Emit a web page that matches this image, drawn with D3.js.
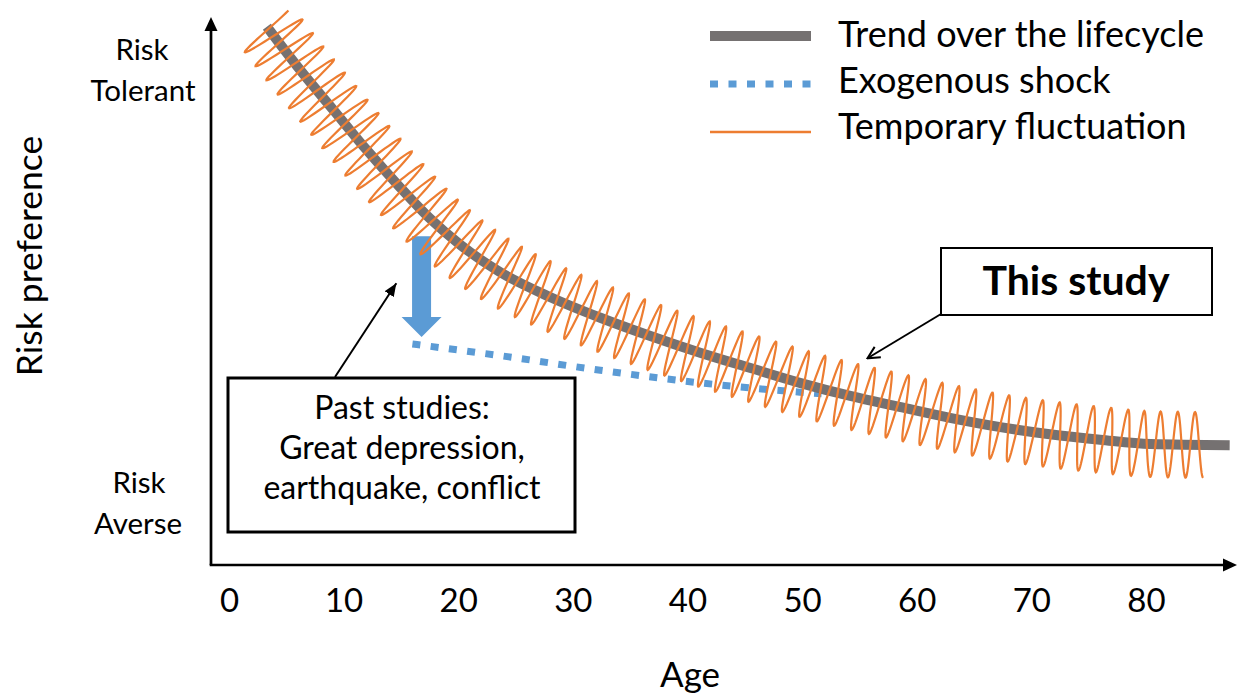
<!DOCTYPE html>
<html lang="en">
<head>
<meta charset="utf-8">
<title>Risk preference over the lifecycle</title>
<style>
  body { margin: 0; background: #fff; }
  svg { display: block; font-family: Lato, "Open Sans", sans-serif; }
</style>
</head>
<body>
<svg id="chart" width="1237" height="695"></svg>
<script src="https://d3js.org/d3.v7.min.js"></script>
<script>
// trend over the lifecycle: age and risk preference (0 = averse, 100 = tolerant)
const trendAge = [3.3, 6.2, 9.1, 12, 14.9, 17.5, 20.2, 23.6, 28, 32.4, 36.7, 41.1, 45.5, 49.8, 54.2, 58.5, 62.9, 67.3, 71.6, 76, 80.4, 87.3]
const trendValue = [98.4, 90.5, 83.2, 75.9, 69.1, 63.4, 58.5, 53.6, 49, 45.2, 41.9, 38.8, 36, 33.3, 30.9, 28.9, 26.9, 25.2, 23.9, 22.9, 22.1, 21.9]

// path after the exogenous shock
const shockAge = [16.0, 23.9, 32.4, 41.1, 49.8, 51.7]
const shockValue = [40.4, 38.2, 35.6, 33.3, 31.6, 31.3]

// the drop itself (big blue arrow)
const dropAge = 16.8
const dropFrom = 60.1
const dropTo = 41.7

// temporary fluctuation around the trend
const fluctEndAge = 85
const fluctAmplitude = 6
const fluctCycles = 61.4
const fluctPhase = 0.6

const ageTicks = [0, 10, 20, 30, 40, 50, 60, 70, 80]
const legendLabels = ["Trend over the lifecycle", "Exogenous shock", "Temporary fluctuation"]

// where the two annotation arrows point (age, value)
const pastTarget = [14.6, 51.5]
const thisTarget = [55.7, 37.8]

const svg = d3.select("#chart")

let x = d3.scaleLinear().domain([0, 80]).range([229, 1146])
let y = d3.scaleLinear().domain([0, 100]).range([565, 18])

const grey = "#757171"
const blue = "#5B9BD5"
const orange = "#ED7D31"

let defs = svg.append("defs")
defs.append("marker")
    .attr("id", "head-filled")
    .attr("markerUnits", "userSpaceOnUse")
    .attr("viewBox", "0 0 12 10")
    .attr("refX", 12).attr("refY", 5)
    .attr("markerWidth", 13).attr("markerHeight", 11)
    .attr("orient", "auto")
    .append("path").attr("d", "M0,0 L12,5 L0,10 Z").attr("fill", "#000")
defs.append("marker")
    .attr("id", "head-open")
    .attr("markerUnits", "userSpaceOnUse")
    .attr("viewBox", "0 0 14 14")
    .attr("refX", 13).attr("refY", 7)
    .attr("markerWidth", 14).attr("markerHeight", 14)
    .attr("orient", "auto")
    .append("path").attr("d", "M1,1 L13,7 L1,13").attr("fill", "none")
    .attr("stroke", "#000").attr("stroke-width", 2)

// shock arrow
let cx = x(dropAge), y0 = y(dropFrom), y1 = y(dropTo)
svg.append("path")
    .attr("d", `M${cx - 9.5},${y0} L${cx + 9.5},${y0} L${cx + 9.5},${y1 - 20} L${cx + 20},${y1 - 20}
                L${cx},${y1} L${cx - 20},${y1 - 20} L${cx - 9.5},${y1 - 20} Z`)
    .attr("fill", blue)

// shock line
let shockLine = d3.line().x(d => x(d[0])).y(d => y(d[1])).curve(d3.curveMonotoneX)
svg.append("path")
    .datum(d3.zip(shockAge, shockValue))
    .attr("d", shockLine)
    .attr("fill", "none")
    .attr("stroke", blue)
    .attr("stroke-width", 7)
    .attr("stroke-dasharray", "8,10.4")

// trend
let trendLine = d3.line().x(d => x(d[0])).y(d => y(d[1])).curve(d3.curveMonotoneX)
let trend = svg.append("path")
    .datum(d3.zip(trendAge, trendValue))
    .attr("d", trendLine)
    .attr("fill", "none")
    .attr("stroke", grey)
    .attr("stroke-width", 10)

// fluctuation: offset perpendicular to the trend
let node = trend.node()
let total = node.getTotalLength()
let endX = x(fluctEndAge)
let sEnd = 0
while (sEnd < total && node.getPointAtLength(sEnd).x < endX) sEnd += 0.5
let amp = y(0) - y(fluctAmplitude)
let pts = []
for (let s = 0; s <= sEnd; s += 0.5) {
    let p = node.getPointAtLength(s)
    let a = node.getPointAtLength(Math.max(0, s - 0.5))
    let b = node.getPointAtLength(Math.min(total, s + 0.5))
    let tx = b.x - a.x, ty = b.y - a.y
    let len = Math.hypot(tx, ty) || 1
    let off = amp * Math.cos(2 * Math.PI * fluctCycles * s / sEnd + fluctPhase)
    pts.push([p.x + off * ty / len, p.y - off * tx / len])
}
svg.append("path")
    .attr("d", d3.line()(pts))
    .attr("fill", "none")
    .attr("stroke", orange)
    .attr("stroke-width", 2.2)

// axes
svg.append("line")
    .attr("x1", 211).attr("y1", 565).attr("x2", 211).attr("y2", 30)
    .attr("stroke", "#000").attr("stroke-width", 2.7)
svg.append("path").attr("d", "M211,17 L217.5,31 L204.5,31 Z").attr("fill", "#000")
svg.append("line")
    .attr("x1", 209.7).attr("y1", 565).attr("x2", 1224).attr("y2", 565)
    .attr("stroke", "#000").attr("stroke-width", 2.7)
svg.append("path").attr("d", "M1237,565 L1223,558.5 L1223,571.5 Z").attr("fill", "#000")

let xAxis = d3.axisBottom(x).tickValues(ageTicks).tickSize(0)
svg.append("g")
    .attr("transform", "translate(0,565)")
    .call(xAxis)
    .call(g => g.select(".domain").remove())
    .call(g => g.selectAll("text")
        .attr("y", 47).attr("dy", null)
        .attr("font-family", "Lato, sans-serif")
        .attr("font-size", 33)
        .attr("fill", "#000"))

svg.append("text")
    .attr("x", 690).attr("y", 687)
    .attr("text-anchor", "middle")
    .attr("font-size", 35)
    .text("Age")

svg.append("text")
    .attr("transform", "translate(42,256) rotate(-90)")
    .attr("text-anchor", "middle")
    .attr("font-size", 35.5)
    .text("Risk preference")

let yLabels = svg.append("g").attr("font-size", 29.5).attr("text-anchor", "middle")
yLabels.append("text").attr("x", 142).attr("y", 60).text("Risk")
yLabels.append("text").attr("x", 143).attr("y", 101).text("Tolerant")
yLabels.append("text").attr("x", 139).attr("y", 493).text("Risk")
yLabels.append("text").attr("x", 138).attr("y", 534).text("Averse")

// past studies box
svg.append("rect")
    .attr("x", 228).attr("y", 378).attr("width", 347).attr("height", 154)
    .attr("fill", "#fff").attr("stroke", "#000").attr("stroke-width", 3)
let past = svg.append("g").attr("font-size", 32).attr("text-anchor", "middle")
past.append("text").attr("x", 402).attr("y", 419).text("Past studies:")
past.append("text").attr("x", 402).attr("y", 459).text("Great depression,")
past.append("text").attr("x", 402).attr("y", 499).text("earthquake, conflict")
svg.append("line")
    .attr("x1", 335).attr("y1", 377)
    .attr("x2", x(pastTarget[0])).attr("y2", y(pastTarget[1]))
    .attr("stroke", "#000").attr("stroke-width", 2)
    .attr("marker-end", "url(#head-filled)")

// this study box
svg.append("rect")
    .attr("x", 941).attr("y", 248).attr("width", 271).attr("height", 67)
    .attr("fill", "#fff").attr("stroke", "#000").attr("stroke-width", 2)
svg.append("text")
    .attr("x", 1076).attr("y", 295)
    .attr("text-anchor", "middle")
    .attr("font-size", 41).attr("font-weight", "bold")
    .text("This study")
svg.append("line")
    .attr("x1", 941).attr("y1", 314)
    .attr("x2", x(thisTarget[0])).attr("y2", y(thisTarget[1]))
    .attr("stroke", "#000").attr("stroke-width", 2)
    .attr("marker-end", "url(#head-open)")

// legend
let legend = svg.append("g")
legend.append("line").attr("x1", 710).attr("x2", 811).attr("y1", 36).attr("y2", 36)
    .attr("stroke", grey).attr("stroke-width", 10)
legend.append("line").attr("x1", 710).attr("x2", 811).attr("y1", 84).attr("y2", 84)
    .attr("stroke", blue).attr("stroke-width", 7).attr("stroke-dasharray", "8,10.5")
legend.append("line").attr("x1", 710).attr("x2", 811).attr("y1", 132).attr("y2", 132)
    .attr("stroke", orange).attr("stroke-width", 2.5)
legend.selectAll("text")
    .data(legendLabels)
    .join("text")
    .attr("x", 838)
    .attr("y", (d, i) => 47 + i * 46)
    .attr("font-size", 36)
    .text(d => d)
</script>
</body>
</html>
